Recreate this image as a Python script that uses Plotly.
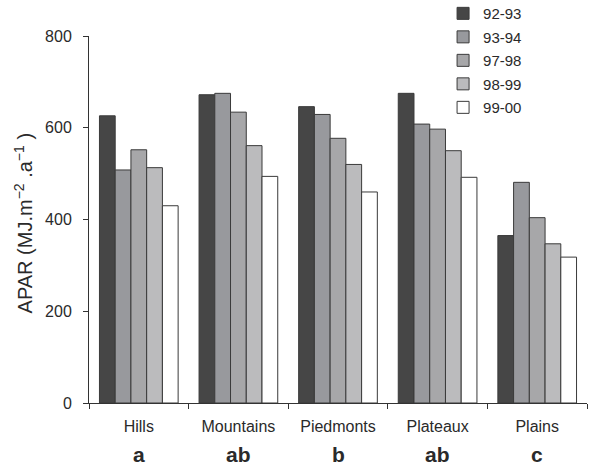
import plotly.graph_objects as go

# Landform classes and the significance letters shown beneath them
regions = ["Hills", "Mountains", "Piedmonts", "Plateaux", "Plains"]
group_letters = ["a", "ab", "b", "ab", "c"]

# Annual APAR (MJ m-2 a-1) per growing season
seasons = ["92-93", "93-94", "97-98", "98-99", "99-00"]
apar_92_93 = [626, 672, 646, 675, 365]
apar_93_94 = [508, 675, 629, 608, 481]
apar_97_98 = [552, 634, 577, 597, 404]
apar_98_99 = [513, 561, 520, 550, 347]
apar_99_00 = [430, 494, 460, 492, 318]

series = [apar_92_93, apar_93_94, apar_97_98, apar_98_99, apar_99_00]
fills = ["#464646", "#98999d", "#a7a7a9", "#bbbbbd", "#ffffff"]

FONT = "Liberation Sans, Arial, sans-serif"
INK = "#2a2a2a"

fig = go.Figure()
for name, vals, col in zip(seasons, series, fills):
    fig.add_trace(go.Bar(
        x=regions, y=vals, name=name, legendgroup=name,
        marker=dict(color=col, line=dict(color="#3a3a3a", width=1)),
    ))

# Significance letters under each class
for reg, letter in zip(regions, group_letters):
    fig.add_annotation(
        x=reg, xref="x", y=0, yref="paper", yanchor="middle",
        yshift=-51, text=f"<b>{letter}</b>", showarrow=False,
        font=dict(family=FONT, size=21, color=INK),
    )

# Y-axis title
fig.add_annotation(
    x=-0.132, xref="paper", xanchor="center",
    y=0.49, yref="paper", yanchor="middle",
    text="APAR (MJ.m<sup>−2</sup> .a<sup>−1</sup> )", textangle=-90,
    showarrow=False, font=dict(family=FONT, size=20, color=INK),
)

fig.update_layout(
    width=589, height=473,
    margin=dict(l=89, r=2, t=36, b=70, autoexpand=False),
    paper_bgcolor="white", plot_bgcolor="white",
    barmode="group", bargap=0.21, bargroupgap=0,
    font=dict(family=FONT, size=16, color=INK),
    legend=dict(
        x=0.711, xanchor="left", y=1.106, yanchor="top",
        bgcolor="rgba(0,0,0,0)", font=dict(size=15, color=INK),
        tracegroupgap=1, itemwidth=30,
    ),
    showlegend=True,
)
fig.update_xaxes(
    showline=True, linecolor="#333333", linewidth=1,
    ticks="outside", tickson="boundaries", ticklen=5,
    tickcolor="#333333", showgrid=False, ticklabelstandoff=9,
    tickfont=dict(size=16),
)
fig.update_yaxes(
    range=[0, 800], tickvals=[0, 200, 400, 600, 800],
    showline=True, linecolor="#333333", linewidth=1,
    ticks="outside", ticklen=5, tickcolor="#333333",
    showgrid=False, zeroline=False, ticklabelstandoff=8,
    tickfont=dict(size=16),
)

fig.write_html("out.html")
